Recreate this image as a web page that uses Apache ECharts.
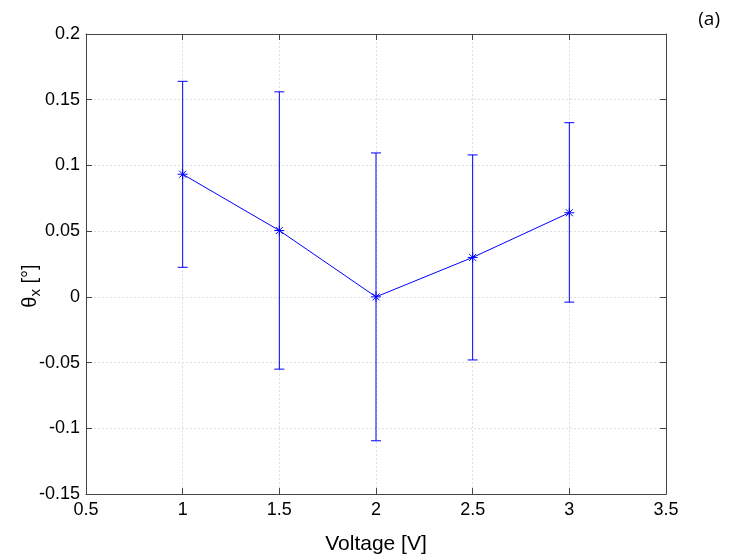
<!DOCTYPE html>
<html><head><meta charset="utf-8">
<script src="https://cdn.jsdelivr.net/npm/echarts@6/dist/echarts.min.js"></script>
<style>html,body{margin:0;padding:0;background:#fff}#c{width:730px;height:560px}</style>
</head><body><div id="c"></div>
<script>
var voltages = [1, 1.5, 2, 2.5, 3];
var thetaX = [0.0933, 0.0505, 0.0, 0.0300, 0.0640];
var errLow = [0.0225, -0.0550, -0.1095, -0.0480, -0.0040];
var errHigh = [0.1640, 0.1560, 0.1095, 0.1080, 0.1325];

var font = '"Liberation Sans", Arial, sans-serif';
var blue = '#0000ff';
var chart = echarts.init(document.getElementById('c'));
var mainData = voltages.map(function (v, i) { return [v, thetaX[i]]; });
var errData = voltages.map(function (v, i) { return [v, errLow[i], errHigh[i]]; });
var star = 'path://M0,-1L0,1M-1,0L1,0M-0.7,-0.7L0.7,0.7M-0.7,0.7L0.7,-0.7';

chart.setOption({
  animation: false,
  backgroundColor: '#fff',
  grid: { left: 86, right: 64, top: 34, bottom: 66, show: false },
  title: { text: '(a)', right: 5, top: 5, textStyle: { fontFamily: '"Open Sans", sans-serif', fontWeight: 'normal', fontSize: 19, color: '#000' } },
  graphic: [{
    type: 'text', x: 30, y: 286, rotation: Math.PI / 2,
    style: {
      text: '{t|θ}{s|x}{t| [°]}', align: 'center', verticalAlign: 'middle',
      rich: {
        t: { fontFamily: font, fontSize: 20, fill: '#000' },
        s: { fontFamily: font, fontSize: 15, fill: '#000', padding: [12, 0, 0, 0] }
      }
    }
  }],
  xAxis: [{
    type: 'value', min: 0.5, max: 3.5, interval: 0.5,
    name: 'Voltage [V]', nameLocation: 'middle', nameGap: 40,
    nameTextStyle: { fontFamily: font, fontSize: 21, color: '#000' },
    axisLine: { onZero: false, lineStyle: { color: '#444', width: 1 } },
    axisTick: { inside: true, length: 6, lineStyle: { color: '#444' } },
    axisLabel: { fontFamily: font, fontSize: 18, color: '#000', margin: 7 },
    splitLine: { show: true, lineStyle: { color: '#dedede', type: [2, 2] } }
  }, {
    type: 'value', position: 'top', min: 0.5, max: 3.5, interval: 0.5,
    axisLine: { onZero: false, lineStyle: { color: '#444', width: 1 } },
    axisTick: { inside: true, length: 6, lineStyle: { color: '#444' } },
    axisLabel: { show: false }, splitLine: { show: false }
  }],
  yAxis: [{
    type: 'value', min: -0.15, max: 0.2, interval: 0.05,
    axisLine: { onZero: false, lineStyle: { color: '#444', width: 1 } },
    axisTick: { inside: true, length: 6, lineStyle: { color: '#444' } },
    axisLabel: { fontFamily: font, fontSize: 18, color: '#000', margin: 6,
      formatter: function (v) { return String(parseFloat(v.toFixed(4))); } },
    splitLine: { show: true, lineStyle: { color: '#dedede', type: [2, 2] } }
  }, {
    type: 'value', position: 'right', min: -0.15, max: 0.2, interval: 0.05,
    axisLine: { onZero: false, lineStyle: { color: '#444', width: 1 } },
    axisTick: { inside: true, length: 6, lineStyle: { color: '#444' } },
    axisLabel: { show: false }, splitLine: { show: false }
  }],
  series: [{
    type: 'custom',
    data: errData,
    z: 2,
    renderItem: function (params, api) {
      var x = api.value(0);
      var lo = api.coord([x, api.value(1)]);
      var hi = api.coord([x, api.value(2)]);
      var w = 5;
      return {
        type: 'group',
        children: [
          { type: 'line', shape: { x1: lo[0], y1: lo[1], x2: hi[0], y2: hi[1] }, style: { stroke: blue, lineWidth: 1 } },
          { type: 'line', shape: { x1: lo[0] - w, y1: lo[1], x2: lo[0] + w, y2: lo[1] }, style: { stroke: blue, lineWidth: 1 } },
          { type: 'line', shape: { x1: hi[0] - w, y1: hi[1], x2: hi[0] + w, y2: hi[1] }, style: { stroke: blue, lineWidth: 1 } }
        ]
      };
    }
  }, {
    type: 'line',
    data: mainData,
    z: 3,
    lineStyle: { color: blue, width: 1 },
    symbol: star, symbolSize: 10,
    itemStyle: { color: 'none', borderColor: blue, borderWidth: 1 }
  }]
});
</script></body></html>
